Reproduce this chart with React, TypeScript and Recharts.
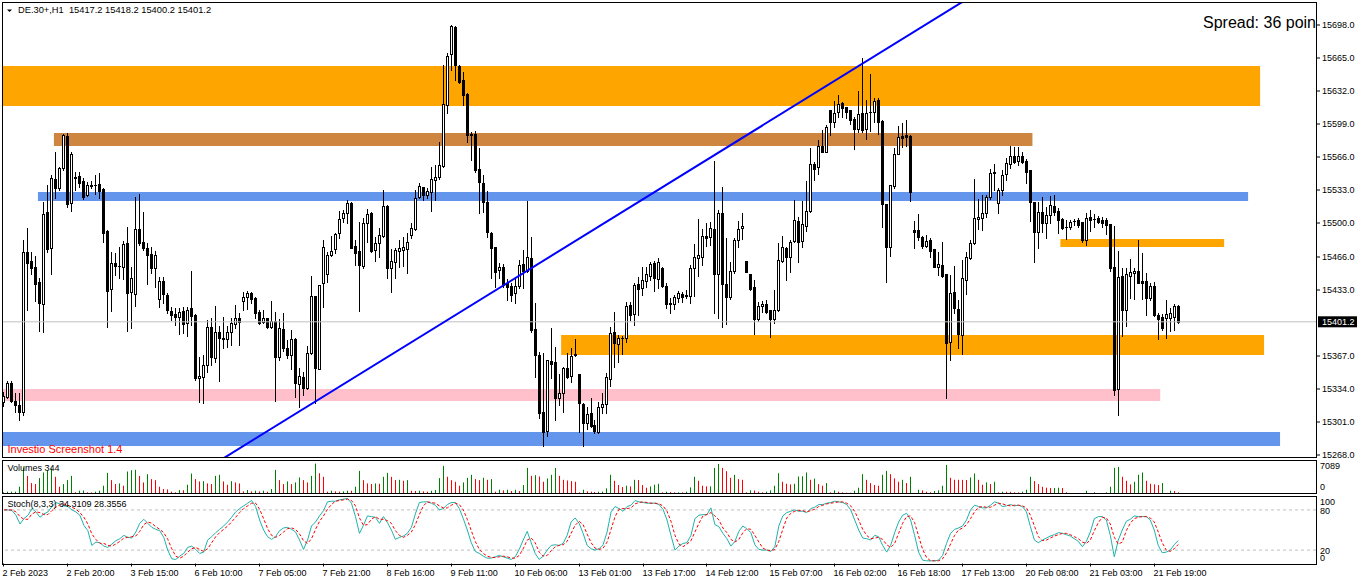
import React from 'react';
import { ComposedChart, Bar, Line, XAxis, YAxis, ReferenceArea, ReferenceLine } from 'recharts';

const FONT = "'Liberation Sans', Arial, sans-serif";
const W = 1362;
const SLOTS = 329;

const opens = [
15321,15326,15340,15322,15318,15311,15471,15462,15456,15441,
15419,15511,15475,15544,15535,15555,15587,15520,15546,15547,
15542,15528,15537,15538,15539,15534,15492,15434,15460,15457,
15456,15480,15431,15429,15494,15481,15475,15469,15455,15424,
15442,15428,15412,15409,15406,15412,15400,15415,15408,15345,
15346,15358,15396,15365,15391,15385,15384,15391,15399,15405,
15422,15426,15430,15425,15411,15401,15405,15396,15402,15366,
15394,15375,15368,15384,15339,15346,15335,15370,15427,15354,
15440,15449,15468,15474,15490,15505,15510,15520,15477,15472,
15457,15500,15510,15473,15480,15487,15517,15455,15461,15472,
15473,15474,15488,15494,15526,15536,15528,15531,15543,15546,
15557,15618,15669,15696,15657,15643,15629,15589,15589,15554,
15540,15521,15490,15476,15453,15456,15440,15437,15430,15437,
15459,15452,15465,15394,15368,15311,15292,15362,15361,15325,
15330,15355,15347,15369,15349,15319,15300,15310,15298,15291,
15316,15319,15344,15391,15379,15385,15385,15418,15409,15439,
15435,15442,15447,15460,15444,15455,15437,15420,15419,15425,
15429,15428,15427,15455,15465,15466,15487,15486,15494,15449,
15510,15439,15426,15452,15483,15495,15462,15449,15436,15404,
15417,15419,15413,15404,15413,15462,15475,15466,15482,15502,
15482,15497,15512,15559,15556,15577,15571,15613,15601,15611,
15620,15616,15613,15604,15594,15610,15594,15611,15611,15623,
15602,15519,15476,15537,15569,15587,15588,15587,15493,15493,
15486,15477,15483,15474,15456,15458,15449,15381,15431,15414,
15388,15443,15465,15480,15504,15505,15510,15526,15550,15520,
15533,15549,15559,15567,15562,15567,15562,15553,15521,15491,
15511,15500,15508,15517,15512,15504,15496,15496,15502,15503,
15501,15483,15506,15504,15505,15503,15503,15499,15456,15334,
15447,15413,15447,15450,15452,15442,15442,15425,15437,15408,
15406,15405,15405,15406,15417.2];

const highs = [
15331,15342,15342,15330,15330,15483,15495,15471,15467,15445,
15521,15538,15548,15571,15556,15589,15590,15571,15551,15551,
15545,15541,15542,15548,15550,15535,15493,15471,15470,15476,
15482,15496,15456,15526,15529,15511,15480,15476,15472,15446,
15446,15430,15416,15415,15415,15416,15416,15452,15409,15366,
15368,15403,15405,15417,15397,15406,15397,15405,15418,15410,
15431,15432,15431,15426,15413,15413,15405,15422,15411,15404,
15410,15383,15393,15385,15355,15351,15377,15447,15427,15438,
15483,15471,15487,15490,15512,15513,15523,15521,15483,15501,
15505,15514,15511,15486,15495,15533,15518,15474,15475,15483,
15486,15490,15500,15533,15540,15536,15535,15556,15558,15581,
15658,15670,15698,15697,15658,15651,15630,15591,15592,15575,
15548,15532,15491,15476,15460,15459,15444,15440,15446,15463,
15473,15522,15486,15420,15371,15370,15363,15395,15376,15349,
15356,15370,15375,15384,15349,15320,15316,15325,15303,15321,
15330,15350,15396,15411,15388,15387,15421,15421,15440,15446,
15456,15456,15461,15462,15465,15456,15440,15425,15428,15432,
15431,15433,15458,15479,15504,15494,15500,15501,15562,15513,
15536,15485,15461,15485,15502,15510,15462,15449,15443,15421,
15422,15423,15413,15433,15480,15487,15476,15483,15523,15506,
15522,15542,15575,15561,15583,15593,15598,15613,15622,15628,
15621,15616,15613,15606,15632,15665,15623,15649,15625,15625,
15603,15519,15538,15575,15597,15600,15603,15588,15502,15509,
15487,15488,15485,15474,15471,15481,15449,15448,15457,15423,
15463,15471,15483,15544,15524,15528,15528,15554,15559,15535,
15553,15565,15577,15576,15576,15571,15564,15553,15521,15521,
15526,15516,15527,15528,15515,15505,15503,15503,15504,15505,
15501,15510,15513,15509,15507,15506,15505,15499,15497,15472,
15455,15455,15464,15455,15483,15470,15450,15440,15441,15410,
15409,15423,15415,15419,15418.2];

const lows = [
15317,15325,15321,15311,15303,15308,15413,15449,15422,15392,
15391,15471,15449,15525,15533,15553,15516,15512,15533,15536,
15524,15527,15535,15529,15525,15481,15396,15412,15448,15445,
15444,15392,15395,15417,15478,15473,15439,15450,15436,15416,
15420,15410,15403,15398,15389,15390,15387,15398,15343,15321,
15320,15351,15358,15361,15342,15375,15376,15378,15395,15378,
15413,15414,15420,15405,15399,15400,15395,15395,15322,15363,
15372,15365,15354,15326,15316,15328,15334,15369,15320,15354,
15416,15441,15467,15470,15485,15501,15500,15475,15458,15412,
15455,15481,15471,15462,15466,15486,15445,15431,15445,15456,
15457,15450,15485,15493,15525,15523,15525,15512,15523,15544,
15556,15610,15653,15643,15640,15618,15581,15563,15551,15510,
15511,15486,15445,15436,15445,15436,15423,15422,15420,15435,
15435,15451,15391,15346,15305,15277,15287,15345,15303,15318,
15311,15345,15341,15367,15291,15277,15294,15296,15290,15290,
15310,15310,15337,15356,15361,15369,15381,15403,15398,15408,
15428,15436,15443,15432,15435,15436,15415,15410,15414,15421,
15421,15425,15420,15427,15447,15458,15477,15478,15410,15405,
15396,15399,15424,15450,15476,15484,15451,15433,15389,15402,
15411,15410,15386,15400,15412,15461,15443,15451,15481,15461,
15476,15492,15511,15543,15549,15571,15571,15588,15596,15606,
15606,15605,15599,15574,15591,15591,15584,15592,15601,15589,
15496,15441,15467,15535,15569,15576,15577,15522,15475,15483,
15475,15476,15466,15456,15448,15446,15325,15363,15410,15375,
15369,15429,15464,15479,15494,15493,15506,15524,15533,15510,
15528,15543,15555,15560,15558,15560,15540,15502,15461,15475,
15491,15485,15500,15508,15490,15494,15484,15494,15498,15496,
15481,15478,15492,15496,15500,15496,15489,15452,15328,15308,
15387,15397,15425,15424,15440,15424,15408,15423,15407,15384,
15393,15385,15392,15393,15400.2];

const closes = [
15327,15340,15322,15318,15311,15471,15460,15455,15439,15420,
15509,15474,15545,15535,15555,15588,15519,15569,15545,15540,
15526,15538,15538,15538,15532,15490,15432,15460,15457,15457,
15479,15430,15445,15494,15480,15475,15468,15455,15468,15442,
15429,15413,15408,15406,15411,15399,15413,15407,15345,15347,
15358,15396,15366,15391,15385,15384,15391,15400,15405,15401,
15426,15430,15424,15410,15400,15405,15396,15402,15366,15395,
15375,15368,15384,15340,15347,15335,15370,15427,15355,15438,
15476,15468,15472,15489,15504,15510,15520,15475,15470,15458,
15500,15509,15472,15480,15488,15517,15455,15462,15473,15475,
15476,15481,15495,15525,15537,15528,15532,15544,15546,15558,
15619,15667,15697,15658,15641,15628,15588,15588,15553,15541,
15521,15491,15475,15451,15456,15438,15436,15428,15437,15458,
15452,15466,15393,15368,15310,15291,15363,15359,15325,15330,
15355,15346,15367,15368,15320,15300,15309,15297,15292,15316,
15319,15346,15390,15380,15385,15385,15417,15408,15438,15434,
15443,15449,15459,15445,15461,15437,15419,15419,15426,15430,
15426,15427,15455,15466,15468,15487,15485,15495,15449,15510,
15439,15426,15452,15483,15494,15497,15451,15434,15404,15417,
15419,15411,15404,15413,15463,15476,15466,15481,15503,15481,
15499,15512,15559,15554,15577,15571,15596,15601,15610,15619,
15615,15611,15603,15594,15609,15593,15610,15611,15622,15601,
15519,15476,15538,15569,15586,15585,15586,15531,15491,15486,
15477,15482,15472,15456,15459,15447,15380,15430,15415,15389,
15445,15466,15480,15505,15506,15510,15526,15550,15551,15533,
15548,15560,15567,15561,15567,15561,15551,15521,15491,15511,
15500,15508,15518,15511,15503,15495,15496,15501,15502,15498,
15483,15505,15503,15504,15501,15500,15498,15455,15333,15446,
15413,15449,15451,15452,15440,15440,15425,15437,15408,15404,
15395,15409,15410,15417,15401.2];

const volumes = [
360,500,500,500,1560,5680,3900,2340,2130,3410,
4620,5000,5500,3690,1560,2130,2980,3900,360,710,
750,360,340,500,710,1780,4540,2980,2130,2270,
1780,4830,5110,5200,3900,2490,4260,3200,2980,1560,
1070,1000,500,360,850,800,1990,4400,3200,2700,
2750,2270,2130,3900,4120,2700,1990,2750,2490,2270,
570,850,570,710,560,710,500,1070,5180,2980,
2130,2700,2130,2490,3550,2980,2490,3900,6530,4470,
3690,500,710,570,500,560,710,700,1560,4970,
2980,2270,2130,2270,2200,3690,4540,3690,2980,3050,
2840,2980,710,650,710,570,500,710,850,3410,
6040,3700,2980,2630,1780,2490,3480,4120,3200,2980,
3480,3050,3200,500,920,780,920,640,920,640,
1920,5610,3900,4050,3760,2630,3340,4120,5610,3900,
3050,2910,2770,2630,360,920,570,500,430,500,
520,1210,4120,2840,1920,1490,1780,1630,3050,3000,
1920,1350,1630,1990,2200,360,500,430,360,380,
350,500,1420,3690,2840,1780,1630,1650,5610,6460,
5610,4900,3480,4120,3200,3050,360,780,760,500,
360,500,780,1780,4470,2630,2200,2060,2200,3760,
3800,4620,3050,3300,2130,1780,2340,360,780,500,
360,280,270,710,1350,4260,3050,2340,1920,1780,
4120,4970,4260,3340,2630,3050,2340,3690,210,920,
780,500,360,640,780,1780,6250,3480,3060,3050,
3040,3000,3550,4400,3050,1990,2490,2130,2630,360,
500,480,460,360,340,500,920,3690,2770,2130,
1560,1350,1280,1300,1350,1280,360,100,90,80,
210,710,210,360,210,200,360,1560,5610,5820,
3690,2840,2060,2630,4120,4620,2840,2200,2060,1920,
2340,210,710,640,344];

const stochK = [
80,80,79,72,59,67,72,82,77,69,
74,77,85,91,89,86,85,80,77,72,
57,49,27,32,31,26,24,29,34,37,
42,39,38,47,60,66,60,54,51,49,
39,20,7,6,11,15,24,26,21,15,
17,35,40,46,51,56,62,69,77,82,
86,90,94,85,65,50,40,36,40,49,
53,54,51,47,35,21,35,56,62,71,
79,92,93,93,95,96,97,90,70,45,
57,71,70,69,60,70,61,50,36,39,
41,45,54,74,91,92,92,90,87,80,
82,88,91,91,82,67,50,31,18,15,
11,8,8,10,12,10,8,6,10,21,
35,48,31,15,6,11,20,27,28,27,
30,42,62,68,60,45,27,22,20,22,
28,47,77,85,82,78,85,87,94,92,
91,90,90,90,88,81,65,42,20,26,
30,31,42,67,72,73,73,83,58,55,
45,37,26,33,48,56,52,46,28,21,
20,20,18,25,56,71,76,78,80,78,
78,76,82,84,88,88,90,91,93,92,
91,88,80,65,50,38,37,35,42,40,
27,17,27,46,62,72,75,65,42,17,
5,4,4,4,5,12,30,45,51,53,
56,65,80,87,85,83,83,87,92,90,
85,86,88,86,87,85,77,55,35,31,
35,38,41,43,46,45,43,41,37,33,
25,33,47,67,70,70,65,42,10,35,
50,63,66,71,70,70,70,65,50,27,
16,17,20,28,34.31];

const stochD = [
80,80,80,77,70,66,66,74,77,76,
73,73,79,84,88,89,87,84,81,76,
69,59,44,36,30,30,27,26,29,33,
38,39,40,41,48,58,62,60,55,51,
46,36,22,11,8,11,17,22,24,21,
18,22,31,40,46,51,56,62,69,76,
82,86,90,90,81,67,52,42,39,42,
47,52,53,51,44,34,30,37,51,63,
71,81,88,93,94,95,96,94,86,68,
57,58,66,70,66,66,64,60,49,42,
39,42,47,58,73,86,92,91,90,86,
83,83,87,90,88,80,66,49,33,21,
15,11,9,9,10,11,10,8,8,12,
22,35,38,31,17,11,12,19,25,27,
28,33,45,57,63,58,44,31,23,21,
23,32,51,70,81,82,82,83,89,91,
92,91,90,90,89,86,78,63,42,29,
25,29,34,47,60,71,73,76,71,65,
53,46,36,32,36,46,52,51,42,32,
23,20,19,21,33,51,68,75,78,79,
79,77,79,81,85,87,89,90,91,92,
92,90,86,78,65,51,42,37,38,39,
36,28,24,30,45,60,70,71,61,41,
21,9,4,4,4,7,16,29,42,50,
53,58,67,77,84,85,84,84,87,90,
89,87,86,87,87,86,83,72,56,40,
34,35,38,41,43,45,45,43,40,37,
32,30,35,49,61,69,68,59,39,29,
32,49,60,67,69,70,70,68,62,47,
31,20,18,22,28.36];

const timeTicks = [0,16,32,48,64,80,96,112,128,144,160,176,192,208,224,240,256,272,288];
const timeLabels = ["2 Feb 2023","2 Feb 20:00","3 Feb 15:00","6 Feb 10:00","7 Feb 05:00","7 Feb 21:00","8 Feb 16:00","9 Feb 11:00","10 Feb 06:00","13 Feb 01:00","13 Feb 17:00","14 Feb 12:00","15 Feb 07:00","16 Feb 02:00","16 Feb 18:00","17 Feb 13:00","20 Feb 08:00","21 Feb 03:00","21 Feb 19:00"];

const priceTicks = [15268,15301,15334,15367,15433,15466,15500,15533,15566,15599,15632,15665,15698];
const priceDomain = [15266, 15721];
const volTicks = [0, 7089];
const stochTicks = [0, 20, 80, 100];
const stochLevels = [20, 80];
const lastPrice = 15401.2;

const zones = [
  { from: 0, to: 314, lo: 15617, hi: 15657, kind: 'orange' },
  { from: 13, to: 257, lo: 15577, hi: 15590, kind: 'brown' },
  { from: 9, to: 311, lo: 15522, hi: 15531, kind: 'blue' },
  { from: 265, to: 305, lo: 15476, hi: 15484, kind: 'orange' },
  { from: 140, to: 315, lo: 15368, hi: 15388, kind: 'orange' },
  { from: 0, to: 289, lo: 15322, hi: 15334, kind: 'pink' },
  { from: 0, to: 319, lo: 15277, hi: 15291, kind: 'blue' },
];
const zoneColor: Record<string, string> = { orange: '#FFA500', brown: '#CD853F', blue: '#6495ED', pink: '#FFC0CB' };

const trendPoints = [ { i: 50, price: 15252.5 }, { i: 245, price: 15733.5 } ];

const rows = Array.from({ length: SLOTS }, (_, i) => {
  const has = i < closes.length;
  const t = trendPoints.find((p) => p.i === i);
  return {
    i,
    range: has ? [lows[i], highs[i]] : undefined,
    open: has ? opens[i] : undefined,
    close: has ? closes[i] : undefined,
    vol: has ? volumes[i] : undefined,
    prevVol: has && i > 0 ? volumes[i - 1] : undefined,
    k: has ? stochK[i] : undefined,
    d: has ? stochD[i] : undefined,
    trend: t ? t.price : undefined,
  };
});

const Candle = (props: any) => {
  const { x, y, width, height, payload } = props;
  if (!payload || payload.range == null || x == null) return null;
  const [lo, hi] = payload.range;
  const top = Math.min(y, y + height);
  const bot = Math.max(y, y + height);
  const span = hi - lo;
  const py = (v: number) => (span > 0 ? top + ((hi - v) / span) * (bot - top) : top);
  const cx = Math.floor(x + width / 2) + 0.5;
  const o = py(payload.open);
  const c = py(payload.close);
  const up = payload.close >= payload.open;
  const bTop = Math.round(Math.min(o, c)) + 0.5;
  const bBot = Math.round(Math.max(o, c)) + 0.5;
  const wTop = Math.round(top);
  const wBot = Math.round(bot) + 1;
  return (
    <g>
      <line x1={cx} x2={cx} y1={wTop} y2={wBot} stroke="#000" strokeWidth={1} />
      {bBot - bTop < 1 ? (
        <line x1={cx - 1.5} x2={cx + 1.5} y1={bTop} y2={bTop} stroke="#000" strokeWidth={1} />
      ) : (
        <rect x={cx - 1} y={bTop} width={2} height={bBot - bTop} fill={up ? '#fff' : '#000'} stroke="#000" strokeWidth={1} />
      )}
    </g>
  );
};

const VolBar = (props: any) => {
  const { x, y, width, height, payload } = props;
  if (!payload || payload.vol == null || x == null) return null;
  const cx = Math.floor(x + width / 2) + 0.5;
  const top = Math.min(y, y + height);
  const bot = Math.max(y, y + height);
  const down = payload.prevVol != null && payload.vol < payload.prevVol;
  return <line x1={cx} x2={cx} y1={top} y2={bot} stroke={down ? '#FF0000' : '#008000'} strokeWidth={1} />;
};

const PriceTag = (props: any) => {
  const vb = props.viewBox;
  if (!vb) return null;
  const right = vb.x + vb.width;
  return (
    <g>
      <rect x={right + 2} y={vb.y - 5.5} width={39} height={11} fill="#000" />
      <text x={right + 6} y={vb.y} dy="0.355em" fill="#fff" fontSize={9} fontFamily={FONT}>
        {lastPrice.toFixed(1)}
      </text>
    </g>
  );
};

const TimeTick = (props: any) => {
  const { x, y, payload } = props;
  const idx = timeTicks.indexOf(payload.value);
  const tx = Math.floor(x) + 0.5;
  return (
    <g>
      <line x1={tx} x2={tx} y1={y} y2={y + 3} stroke="#000" strokeWidth={1} />
      <text x={tx - 1} y={y + 12.5} fontSize={9} fontFamily={FONT} fill="#000" textAnchor="start">
        {idx >= 0 ? timeLabels[idx] : ''}
      </text>
    </g>
  );
};

const VolTick = (props: any) => {
  const { x, y, payload } = props;
  const dy = payload.value === 0 ? -7 : 5;
  return (
    <text x={x} y={y + dy} dy="0.355em" fontSize={9} fontFamily={FONT} fill="#000" textAnchor="start">
      {payload.value}
    </text>
  );
};

const StochTick = (props: any) => {
  const { x, y, payload } = props;
  const v = payload.value;
  const dy = v === 100 ? 5.5 : v === 0 ? -6 : 0.5;
  return (
    <text x={x} y={y + dy} dy="0.355em" fontSize={9} fontFamily={FONT} fill="#000" textAnchor="start">
      {v}
    </text>
  );
};

const frame = (top: number, height: number): React.CSSProperties => ({
  position: 'absolute', left: 2, top, width: 1315, height, border: '1px solid #000', boxSizing: 'border-box', pointerEvents: 'none',
});

const textStyle = (left: number, top: number, size: number, color = '#000'): React.CSSProperties => ({
  position: 'absolute', left, top, fontSize: size, lineHeight: `${Math.round(size * 1.2)}px`, color, fontFamily: FONT, whiteSpace: 'pre', pointerEvents: 'none',
});

export default function App() {
  const last = closes.length - 1;
  const header = `DE.30+,H1  ${opens[last].toFixed(1)} ${highs[last].toFixed(1)} ${lows[last].toFixed(1)} ${closes[last].toFixed(1)}`;
  return (
    <div style={{ position: 'absolute', left: 0, top: 0, width: W, height: 585, background: '#fff', overflow: 'hidden', fontFamily: FONT }}>
      <div style={{ position: 'absolute', left: 0, top: 0 }}>
        <ComposedChart width={W} height={460} data={rows} margin={{ top: 2, right: 0, bottom: 3, left: 2 }}>
          <XAxis dataKey="i" type="category" scale="band" hide />
          <YAxis orientation="right" width={46} domain={priceDomain} allowDataOverflow ticks={priceTicks} interval={0}
            axisLine={false} tickLine={{ stroke: '#000' }} tickSize={4} tickMargin={2}
            tick={{ fontSize: 9, fill: '#000', fontFamily: FONT }} tickFormatter={(v: number) => v.toFixed(1)} />
          {zones.map((z, n) => (
            <ReferenceArea key={n} x1={z.from} x2={z.to} y1={z.lo} y2={z.hi} fill={zoneColor[z.kind]} fillOpacity={1} stroke="none" />
          ))}
          <ReferenceLine y={lastPrice} stroke="#C0C0C0" strokeWidth={1} label={<PriceTag />} />
          <Bar dataKey="range" shape={<Candle />} isAnimationActive={false} />
          <Line dataKey="trend" stroke="#0000FF" strokeWidth={2} dot={false} connectNulls isAnimationActive={false} activeDot={false} />
        </ComposedChart>
      </div>
      <div style={{ position: 'absolute', left: 0, top: 458 }}>
        <ComposedChart width={W} height={36} data={rows} margin={{ top: 3, right: 0, bottom: 0, left: 2 }}>
          <XAxis dataKey="i" type="category" scale="band" hide />
          <YAxis orientation="right" width={46} domain={[0, 7089]} allowDataOverflow ticks={volTicks} interval={0}
            axisLine={false} tickLine={false} tickSize={4} tickMargin={0} tick={<VolTick />} />
          <Bar dataKey="vol" shape={<VolBar />} isAnimationActive={false} />
        </ComposedChart>
      </div>
      <div style={{ position: 'absolute', left: 0, top: 490 }}>
        <ComposedChart width={W} height={95} data={rows} margin={{ top: 6.5, right: 0, bottom: 0, left: 2 }}>
          <XAxis dataKey="i" type="category" scale="band" height={21.5} ticks={timeTicks} interval={0}
            axisLine={false} tickLine={false} tickSize={0} tickMargin={0} tick={<TimeTick />} />
          <YAxis orientation="right" width={46} domain={[0, 100]} allowDataOverflow ticks={stochTicks} interval={0}
            axisLine={false} tickLine={false} tickSize={4} tickMargin={0} tick={<StochTick />} />
          {stochLevels.map((lv) => (
            <ReferenceLine key={lv} y={lv} stroke="#C0C0C0" strokeDasharray="3 3" strokeWidth={1} />
          ))}
          <Line dataKey="k" stroke="#20B2AA" strokeWidth={1} dot={false} isAnimationActive={false} activeDot={false} />
          <Line dataKey="d" stroke="#FF0000" strokeWidth={1} strokeDasharray="3 2" dot={false} isAnimationActive={false} activeDot={false} />
        </ComposedChart>
      </div>
      <div style={frame(2, 456)} />
      <div style={frame(460, 34)} />
      <div style={frame(496, 69)} />
      <svg style={{ position: 'absolute', left: 0, top: 0 }} width={16} height={16}>
        <polygon points="7,9.5 12,9.5 9.5,12" fill="#000" />
      </svg>
      <div style={textStyle(18, 4.5, 9.3)}>{header}</div>
      <div style={{ position: 'absolute', left: 1203, top: 13, width: 113, height: 22, overflow: 'hidden' }}>
        <div style={{ fontSize: 16, lineHeight: '19px', color: '#000', fontFamily: FONT, whiteSpace: 'nowrap' }}>Spread: 36 poin</div>
      </div>
      <div style={textStyle(7.5, 442.5, 11, '#FF0000')}>Investio Screenshot 1.4</div>
      <div style={textStyle(7.5, 463, 9)}>{`Volumes ${volumes[last]}`}</div>
      <div style={textStyle(7.5, 499, 9)}>Stoch(8,3,3) 34.3109 28.3556</div>
    </div>
  );
}
